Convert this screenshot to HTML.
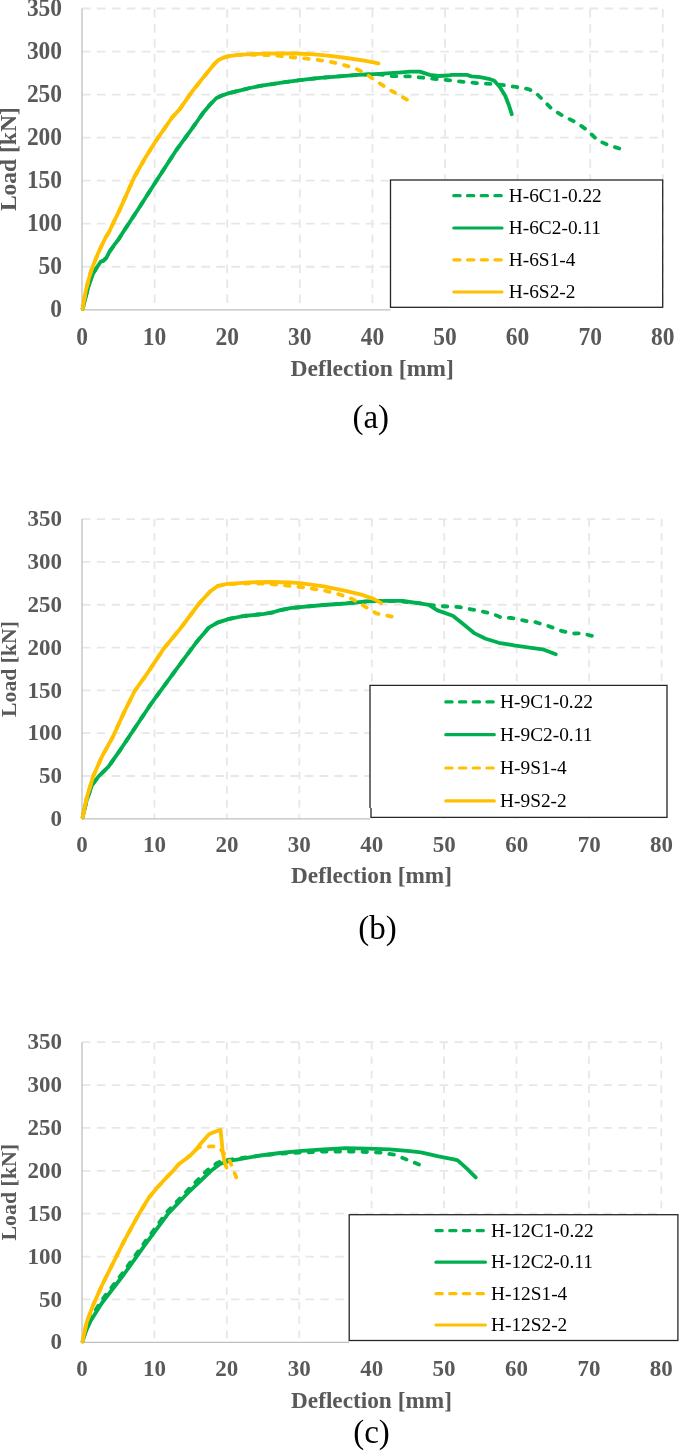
<!DOCTYPE html><html><head><meta charset="utf-8"><style>html,body{margin:0;padding:0;background:#fff;width:685px;height:1451px;overflow:hidden}svg{display:block;filter:blur(0.35px)}</style></head><body>
<svg width="685" height="1451" viewBox="0 0 685 1451">
<rect width="685" height="1451" fill="#fff"/>
<line x1="82.0" y1="266.76" x2="662.8" y2="266.76" stroke="#e7e7e7" stroke-width="1.8" stroke-dasharray="8.6,6.33"/><line x1="82.0" y1="223.71" x2="662.8" y2="223.71" stroke="#e7e7e7" stroke-width="1.8" stroke-dasharray="8.6,6.33"/><line x1="82.0" y1="180.67" x2="662.8" y2="180.67" stroke="#e7e7e7" stroke-width="1.8" stroke-dasharray="8.6,6.33"/><line x1="82.0" y1="137.63" x2="662.8" y2="137.63" stroke="#e7e7e7" stroke-width="1.8" stroke-dasharray="8.6,6.33"/><line x1="82.0" y1="94.59" x2="662.8" y2="94.59" stroke="#e7e7e7" stroke-width="1.8" stroke-dasharray="8.6,6.33"/><line x1="82.0" y1="51.54" x2="662.8" y2="51.54" stroke="#e7e7e7" stroke-width="1.8" stroke-dasharray="8.6,6.33"/><line x1="82.0" y1="8.50" x2="662.8" y2="8.50" stroke="#e7e7e7" stroke-width="1.8" stroke-dasharray="8.6,6.33"/><line x1="154.60" y1="8.5" x2="154.60" y2="309.8" stroke="#e7e7e7" stroke-width="1.8" stroke-dasharray="8.4,6.63" stroke-dashoffset="-0.5"/><line x1="227.20" y1="8.5" x2="227.20" y2="309.8" stroke="#e7e7e7" stroke-width="1.8" stroke-dasharray="8.4,6.63" stroke-dashoffset="-0.5"/><line x1="299.80" y1="8.5" x2="299.80" y2="309.8" stroke="#e7e7e7" stroke-width="1.8" stroke-dasharray="8.4,6.63" stroke-dashoffset="-0.5"/><line x1="372.40" y1="8.5" x2="372.40" y2="309.8" stroke="#e7e7e7" stroke-width="1.8" stroke-dasharray="8.4,6.63" stroke-dashoffset="-0.5"/><line x1="445.00" y1="8.5" x2="445.00" y2="309.8" stroke="#e7e7e7" stroke-width="1.8" stroke-dasharray="8.4,6.63" stroke-dashoffset="-0.5"/><line x1="517.60" y1="8.5" x2="517.60" y2="309.8" stroke="#e7e7e7" stroke-width="1.8" stroke-dasharray="8.4,6.63" stroke-dashoffset="-0.5"/><line x1="590.20" y1="8.5" x2="590.20" y2="309.8" stroke="#e7e7e7" stroke-width="1.8" stroke-dasharray="8.4,6.63" stroke-dashoffset="-0.5"/><line x1="662.80" y1="8.5" x2="662.80" y2="309.8" stroke="#e7e7e7" stroke-width="1.8" stroke-dasharray="8.4,6.63" stroke-dashoffset="-0.5"/>
<line x1="82.0" y1="8.5" x2="82.0" y2="309.8" stroke="#bfbfbf" stroke-width="1.3"/>
<line x1="82.0" y1="309.8" x2="390.5" y2="309.8" stroke="#bfbfbf" stroke-width="1.3"/>
<g font-family="Liberation Serif, serif" font-weight="bold" font-size="23.5" fill="#595959"><text transform="translate(62.1,317.28) scale(1.0,1.08)" text-anchor="end">0</text><text transform="translate(62.1,274.24) scale(1.0,1.08)" text-anchor="end">50</text><text transform="translate(62.1,231.19) scale(1.0,1.08)" text-anchor="end">100</text><text transform="translate(62.1,188.15) scale(1.0,1.08)" text-anchor="end">150</text><text transform="translate(62.1,145.11) scale(1.0,1.08)" text-anchor="end">200</text><text transform="translate(62.1,102.06) scale(1.0,1.08)" text-anchor="end">250</text><text transform="translate(62.1,59.02) scale(1.0,1.08)" text-anchor="end">300</text><text transform="translate(62.1,15.98) scale(1.0,1.08)" text-anchor="end">350</text><text transform="translate(82.00,344.6) scale(1.0,1.08)" text-anchor="middle">0</text><text transform="translate(154.60,344.6) scale(1.0,1.08)" text-anchor="middle">10</text><text transform="translate(227.20,344.6) scale(1.0,1.08)" text-anchor="middle">20</text><text transform="translate(299.80,344.6) scale(1.0,1.08)" text-anchor="middle">30</text><text transform="translate(372.40,344.6) scale(1.0,1.08)" text-anchor="middle">40</text><text transform="translate(445.00,344.6) scale(1.0,1.08)" text-anchor="middle">50</text><text transform="translate(517.60,344.6) scale(1.0,1.08)" text-anchor="middle">60</text><text transform="translate(590.20,344.6) scale(1.0,1.08)" text-anchor="middle">70</text><text transform="translate(662.80,344.6) scale(1.0,1.08)" text-anchor="middle">80</text></g>
<text transform="translate(372.20,375.5) scale(1.006,1)" font-family="Liberation Serif, serif" font-weight="bold" font-size="23.5" fill="#595959" text-anchor="middle">Deflection [mm]</text>
<text transform="translate(15.6,159.2) rotate(-90)" font-family="Liberation Serif, serif" font-weight="bold" font-size="23.5" fill="#595959" text-anchor="middle">Load [kN]</text>
<polyline points="82.7,308.8 86.0,295.7 89.7,282.6 93.3,273.1 97.0,267.2 100.6,261.8 103.5,260.7 106.5,257.7 109.4,251.9 114.5,244.6 118.9,238.8 124.0,230.7 138.0,209.5 155.0,183.0 175.9,150.7 191.1,129.8 198.1,120.0 203.4,112.4 210.4,104.2 216.2,98.2 222.0,95.5 229.0,93.1 238.4,90.8 250.0,88.0 261.7,85.6 273.4,83.9 285.0,82.1 296.7,80.6 308.4,79.2 320.1,77.8 330.0,77.1 357.6,74.9 379.5,74.2 390.4,76.0 410.0,76.4 431.9,78.6 453.8,80.8 475.7,83.0 497.6,84.3 512.9,86.5 528.2,89.1 535.0,92.0 543.8,100.8 552.5,109.6 563.5,116.1 576.6,122.7 587.6,130.4 597.4,140.2 607.3,144.6 619.3,148.5" fill="none" stroke="#00b050" stroke-width="3.8" stroke-dasharray="4.6,8.9" stroke-dashoffset="1.85" stroke-linecap="round" stroke-linejoin="round"/>
<polyline points="82.7,308.8 86.0,295.7 89.7,282.6 93.3,273.1 97.0,267.2 100.6,261.8 103.5,260.7 106.5,257.7 109.4,251.9 114.5,244.6 118.9,238.8 124.0,230.7 138.0,209.5 155.0,183.0 175.9,150.7 191.1,129.8 198.1,120.0 203.4,112.4 210.4,104.2 216.2,98.2 222.0,95.5 229.0,93.1 238.4,90.8 250.0,88.0 261.7,85.6 273.4,83.9 285.0,82.1 296.7,80.6 308.4,79.2 320.1,77.8 330.0,77.1 357.6,74.9 379.5,73.8 401.4,72.3 410.0,71.6 419.9,71.6 429.7,74.9 438.5,76.0 448.3,75.5 451.6,74.9 466.9,74.9 471.3,76.4 480.1,77.1 488.8,78.8 494.3,80.8 499.8,86.9 505.2,95.7 509.0,105.5 511.8,114.3" fill="none" stroke="#00b050" stroke-width="3.8" stroke-linecap="round" stroke-linejoin="round"/>
<polyline points="82.7,308.8 83.8,301.5 86.0,289.9 88.6,279.6 91.1,270.9 94.8,261.4 98.4,252.6 102.1,244.6 105.7,237.3 109.4,231.5 113.0,223.5 119.0,211.4 126.6,194.4 134.2,177.3 145.5,157.4 156.9,139.3 172.1,117.5 180.0,108.9 191.7,92.0 203.4,77.4 213.9,64.5 218.5,59.9 223.2,57.8 229.0,56.1 238.4,54.9 250.0,54.7 273.4,55.3 290.9,57.2 304.9,58.4 317.7,59.9 330.0,61.7 340.0,64.0 353.2,67.7 364.2,72.7 375.1,80.4 390.4,90.2 406.9,99.6" fill="none" stroke="#ffc000" stroke-width="3.8" stroke-dasharray="4.6,8.9" stroke-dashoffset="4.45" stroke-linecap="round" stroke-linejoin="round"/>
<polyline points="82.7,308.8 83.8,301.5 86.0,289.9 88.6,279.6 91.1,270.9 94.8,261.4 98.4,252.6 102.1,244.6 105.7,237.3 109.4,231.5 113.0,223.5 119.0,211.4 126.6,194.4 134.2,177.3 145.5,157.4 156.9,139.3 172.1,117.5 180.0,108.9 191.7,92.0 203.4,77.4 213.9,64.5 218.5,59.9 223.2,57.8 229.0,56.1 238.4,54.9 250.0,54.1 273.4,53.3 296.7,53.5 314.2,54.4 330.0,55.8 346.6,58.0 364.2,60.7 378.4,63.3" fill="none" stroke="#ffc000" stroke-width="3.8" stroke-linecap="round" stroke-linejoin="round"/>
<rect x="390.5" y="180.0" width="272.2" height="127.3" fill="#fff"/>
<rect x="390.5" y="180.0" width="272.2" height="127.3" fill="none" stroke="#262626" stroke-width="1.3"/>
<line x1="453.8" y1="195.7" x2="502.0" y2="195.7" stroke="#00b050" stroke-width="3.2" stroke-linecap="round" stroke-dasharray="6.3,7.4"/>
<text transform="translate(508.8,201.84) scale(1.04,1)" font-family="Liberation Serif, serif" font-size="18.6" fill="#000">H-6C1-0.22</text>
<line x1="453.8" y1="228.0" x2="502.0" y2="228.0" stroke="#00b050" stroke-width="3.2" stroke-linecap="round"/>
<text transform="translate(508.8,234.14) scale(1.04,1)" font-family="Liberation Serif, serif" font-size="18.6" fill="#000">H-6C2-0.11</text>
<line x1="453.8" y1="259.8" x2="502.0" y2="259.8" stroke="#ffc000" stroke-width="3.2" stroke-linecap="round" stroke-dasharray="6.3,7.4"/>
<text transform="translate(508.8,265.94) scale(1.04,1)" font-family="Liberation Serif, serif" font-size="18.6" fill="#000">H-6S1-4</text>
<line x1="453.8" y1="292.0" x2="502.0" y2="292.0" stroke="#ffc000" stroke-width="3.2" stroke-linecap="round"/>
<text transform="translate(508.8,298.14) scale(1.04,1)" font-family="Liberation Serif, serif" font-size="18.6" fill="#000">H-6S2-2</text>
<text x="370.8" y="427.7" font-family="Liberation Serif, serif" font-size="33" fill="#000" text-anchor="middle">(a)</text>
<line x1="82.0" y1="775.99" x2="661.6" y2="775.99" stroke="#e7e7e7" stroke-width="1.8" stroke-dasharray="8.4,6.45"/><line x1="82.0" y1="733.17" x2="661.6" y2="733.17" stroke="#e7e7e7" stroke-width="1.8" stroke-dasharray="8.4,6.45"/><line x1="82.0" y1="690.36" x2="661.6" y2="690.36" stroke="#e7e7e7" stroke-width="1.8" stroke-dasharray="8.4,6.45"/><line x1="82.0" y1="647.54" x2="661.6" y2="647.54" stroke="#e7e7e7" stroke-width="1.8" stroke-dasharray="8.4,6.45"/><line x1="82.0" y1="604.73" x2="661.6" y2="604.73" stroke="#e7e7e7" stroke-width="1.8" stroke-dasharray="8.4,6.45"/><line x1="82.0" y1="561.91" x2="661.6" y2="561.91" stroke="#e7e7e7" stroke-width="1.8" stroke-dasharray="8.4,6.45"/><line x1="82.0" y1="519.10" x2="661.6" y2="519.10" stroke="#e7e7e7" stroke-width="1.8" stroke-dasharray="8.4,6.45"/><line x1="154.45" y1="519.1" x2="154.45" y2="818.8" stroke="#e7e7e7" stroke-width="1.8" stroke-dasharray="7.8,6.24" stroke-dashoffset="0.1"/><line x1="226.90" y1="519.1" x2="226.90" y2="818.8" stroke="#e7e7e7" stroke-width="1.8" stroke-dasharray="7.8,6.24" stroke-dashoffset="0.1"/><line x1="299.35" y1="519.1" x2="299.35" y2="818.8" stroke="#e7e7e7" stroke-width="1.8" stroke-dasharray="7.8,6.24" stroke-dashoffset="0.1"/><line x1="371.80" y1="519.1" x2="371.80" y2="818.8" stroke="#e7e7e7" stroke-width="1.8" stroke-dasharray="7.8,6.24" stroke-dashoffset="0.1"/><line x1="444.25" y1="519.1" x2="444.25" y2="818.8" stroke="#e7e7e7" stroke-width="1.8" stroke-dasharray="7.8,6.24" stroke-dashoffset="0.1"/><line x1="516.70" y1="519.1" x2="516.70" y2="818.8" stroke="#e7e7e7" stroke-width="1.8" stroke-dasharray="7.8,6.24" stroke-dashoffset="0.1"/><line x1="589.15" y1="519.1" x2="589.15" y2="818.8" stroke="#e7e7e7" stroke-width="1.8" stroke-dasharray="7.8,6.24" stroke-dashoffset="0.1"/><line x1="661.60" y1="519.1" x2="661.60" y2="818.8" stroke="#e7e7e7" stroke-width="1.8" stroke-dasharray="7.8,6.24" stroke-dashoffset="0.1"/>
<line x1="82.0" y1="519.1" x2="82.0" y2="818.8" stroke="#bfbfbf" stroke-width="1.3"/>
<line x1="82.0" y1="818.8" x2="370.0" y2="818.8" stroke="#bfbfbf" stroke-width="1.3"/>
<g font-family="Liberation Serif, serif" font-weight="bold" font-size="23.0" fill="#595959"><text transform="translate(62.1,826.07) scale(1.0,1.0)" text-anchor="end">0</text><text transform="translate(62.1,783.26) scale(1.0,1.0)" text-anchor="end">50</text><text transform="translate(62.1,740.45) scale(1.0,1.0)" text-anchor="end">100</text><text transform="translate(62.1,697.63) scale(1.0,1.0)" text-anchor="end">150</text><text transform="translate(62.1,654.82) scale(1.0,1.0)" text-anchor="end">200</text><text transform="translate(62.1,612.00) scale(1.0,1.0)" text-anchor="end">250</text><text transform="translate(62.1,569.19) scale(1.0,1.0)" text-anchor="end">300</text><text transform="translate(62.1,526.37) scale(1.0,1.0)" text-anchor="end">350</text><text transform="translate(82.00,851.8) scale(1.0,1.0)" text-anchor="middle">0</text><text transform="translate(154.45,851.8) scale(1.0,1.0)" text-anchor="middle">10</text><text transform="translate(226.90,851.8) scale(1.0,1.0)" text-anchor="middle">20</text><text transform="translate(299.35,851.8) scale(1.0,1.0)" text-anchor="middle">30</text><text transform="translate(371.80,851.8) scale(1.0,1.0)" text-anchor="middle">40</text><text transform="translate(444.25,851.8) scale(1.0,1.0)" text-anchor="middle">50</text><text transform="translate(516.70,851.8) scale(1.0,1.0)" text-anchor="middle">60</text><text transform="translate(589.15,851.8) scale(1.0,1.0)" text-anchor="middle">70</text><text transform="translate(661.60,851.8) scale(1.0,1.0)" text-anchor="middle">80</text></g>
<text transform="translate(371.50,882.6) scale(1.013,1)" font-family="Liberation Serif, serif" font-weight="bold" font-size="23.0" fill="#595959" text-anchor="middle">Deflection [mm]</text>
<text transform="translate(15.6,669.0) rotate(-90)" font-family="Liberation Serif, serif" font-weight="bold" font-size="21.7" fill="#595959" text-anchor="middle">Load [kN]</text>
<polyline points="82.6,817.5 86.6,800.5 92.0,785.2 98.6,776.4 108.5,766.6 119.4,751.2 134.7,728.2 150.1,705.2 167.6,681.2 182.9,660.4 196.0,642.8 200.0,637.9 208.8,627.7 217.5,622.6 229.2,618.9 243.8,616.0 258.4,614.5 264.2,613.8 273.0,612.3 280.3,610.1 290.5,608.2 300.0,607.2 323.8,605.0 345.7,603.5 367.6,601.3 385.1,600.9 402.6,601.5 420.0,603.4 437.5,606.0 459.4,607.1 476.9,610.4 492.3,613.6 501.0,617.4 512.0,618.0 529.5,621.7 535.0,622.0 548.1,626.0 561.3,630.8 572.2,633.6 581.0,633.2 591.9,635.8" fill="none" stroke="#00b050" stroke-width="3.8" stroke-dasharray="4.6,8.9" stroke-dashoffset="4.85" stroke-linecap="round" stroke-linejoin="round"/>
<polyline points="82.6,817.5 86.6,800.5 92.0,785.2 98.6,776.4 108.5,766.6 119.4,751.2 134.7,728.2 150.1,705.2 167.6,681.2 182.9,660.4 196.0,642.8 200.0,637.9 208.8,627.7 217.5,622.6 229.2,618.9 243.8,616.0 258.4,614.5 264.2,613.8 273.0,612.3 280.3,610.1 290.5,608.2 300.0,607.2 323.8,605.0 345.7,603.5 367.6,601.3 385.1,600.9 402.6,600.9 420.0,603.4 428.8,604.9 437.5,610.4 452.8,615.8 463.8,624.6 474.7,633.4 485.7,638.8 498.8,642.8 514.2,645.4 529.5,647.6 542.6,649.3 555.8,654.2" fill="none" stroke="#00b050" stroke-width="3.8" stroke-linecap="round" stroke-linejoin="round"/>
<polyline points="82.6,817.5 86.6,798.3 93.1,776.4 101.9,756.7 112.8,737.0 123.8,712.9 134.7,691.0 145.7,675.7 163.2,649.4 178.5,630.8 183.8,624.0 199.1,603.5 210.1,591.5 217.7,586.0 227.6,584.3 249.5,583.3 271.4,584.0 280.0,584.9 301.9,587.1 323.8,590.4 339.1,594.3 352.3,599.1 365.4,606.8 376.3,613.4 391.7,616.6" fill="none" stroke="#ffc000" stroke-width="3.8" stroke-dasharray="4.6,8.9" stroke-dashoffset="11.53" stroke-linecap="round" stroke-linejoin="round"/>
<polyline points="82.6,817.5 86.6,798.3 93.1,776.4 101.9,756.7 112.8,737.0 123.8,712.9 134.7,691.0 145.7,675.7 163.2,649.4 178.5,630.8 183.8,624.0 199.1,603.5 210.1,591.5 217.7,586.0 227.6,583.8 249.5,582.3 271.4,582.0 290.0,582.3 301.9,583.4 323.8,586.4 345.7,590.8 363.2,595.2 374.2,599.1 381.2,603.1" fill="none" stroke="#ffc000" stroke-width="3.8" stroke-linecap="round" stroke-linejoin="round"/>
<rect x="370.0" y="685.3" width="297.0" height="132.0" fill="#fff"/>
<path d="M370.0,807.9 V685.3 H667.0 V817.3 H371.0 V807.9" fill="none" stroke="#262626" stroke-width="1.3"/>
<line x1="445.8" y1="701.9" x2="494.3" y2="701.9" stroke="#00b050" stroke-width="3.2" stroke-linecap="round" stroke-dasharray="6.3,7.4"/>
<text transform="translate(500.1,708.04) scale(1.04,1)" font-family="Liberation Serif, serif" font-size="18.6" fill="#000">H-9C1-0.22</text>
<line x1="445.8" y1="734.7" x2="494.3" y2="734.7" stroke="#00b050" stroke-width="3.2" stroke-linecap="round"/>
<text transform="translate(500.1,740.84) scale(1.04,1)" font-family="Liberation Serif, serif" font-size="18.6" fill="#000">H-9C2-0.11</text>
<line x1="445.8" y1="768.0" x2="494.3" y2="768.0" stroke="#ffc000" stroke-width="3.2" stroke-linecap="round" stroke-dasharray="6.3,7.4"/>
<text transform="translate(500.1,774.14) scale(1.04,1)" font-family="Liberation Serif, serif" font-size="18.6" fill="#000">H-9S1-4</text>
<line x1="445.8" y1="800.9" x2="494.3" y2="800.9" stroke="#ffc000" stroke-width="3.2" stroke-linecap="round"/>
<text transform="translate(500.1,807.04) scale(1.04,1)" font-family="Liberation Serif, serif" font-size="18.6" fill="#000">H-9S2-2</text>
<text x="377.5" y="938.5" font-family="Liberation Serif, serif" font-size="33" fill="#000" text-anchor="middle">(b)</text>
<line x1="82.0" y1="1299.43" x2="661.3" y2="1299.43" stroke="#e7e7e7" stroke-width="1.8" stroke-dasharray="8.5,6.40"/><line x1="82.0" y1="1256.56" x2="661.3" y2="1256.56" stroke="#e7e7e7" stroke-width="1.8" stroke-dasharray="8.5,6.40"/><line x1="82.0" y1="1213.69" x2="661.3" y2="1213.69" stroke="#e7e7e7" stroke-width="1.8" stroke-dasharray="8.5,6.40"/><line x1="82.0" y1="1170.81" x2="661.3" y2="1170.81" stroke="#e7e7e7" stroke-width="1.8" stroke-dasharray="8.5,6.40"/><line x1="82.0" y1="1127.94" x2="661.3" y2="1127.94" stroke="#e7e7e7" stroke-width="1.8" stroke-dasharray="8.5,6.40"/><line x1="82.0" y1="1085.07" x2="661.3" y2="1085.07" stroke="#e7e7e7" stroke-width="1.8" stroke-dasharray="8.5,6.40"/><line x1="82.0" y1="1042.20" x2="661.3" y2="1042.20" stroke="#e7e7e7" stroke-width="1.8" stroke-dasharray="8.5,6.40"/><line x1="154.41" y1="1042.2" x2="154.41" y2="1342.3" stroke="#e7e7e7" stroke-width="1.8" stroke-dasharray="7.6,6.83" stroke-dashoffset="0.2"/><line x1="226.82" y1="1042.2" x2="226.82" y2="1342.3" stroke="#e7e7e7" stroke-width="1.8" stroke-dasharray="7.6,6.83" stroke-dashoffset="0.2"/><line x1="299.24" y1="1042.2" x2="299.24" y2="1342.3" stroke="#e7e7e7" stroke-width="1.8" stroke-dasharray="7.6,6.83" stroke-dashoffset="0.2"/><line x1="371.65" y1="1042.2" x2="371.65" y2="1342.3" stroke="#e7e7e7" stroke-width="1.8" stroke-dasharray="7.6,6.83" stroke-dashoffset="0.2"/><line x1="444.06" y1="1042.2" x2="444.06" y2="1342.3" stroke="#e7e7e7" stroke-width="1.8" stroke-dasharray="7.6,6.83" stroke-dashoffset="0.2"/><line x1="516.47" y1="1042.2" x2="516.47" y2="1342.3" stroke="#e7e7e7" stroke-width="1.8" stroke-dasharray="7.6,6.83" stroke-dashoffset="0.2"/><line x1="588.89" y1="1042.2" x2="588.89" y2="1342.3" stroke="#e7e7e7" stroke-width="1.8" stroke-dasharray="7.6,6.83" stroke-dashoffset="0.2"/><line x1="661.30" y1="1042.2" x2="661.30" y2="1342.3" stroke="#e7e7e7" stroke-width="1.8" stroke-dasharray="7.6,6.83" stroke-dashoffset="0.2"/>
<line x1="82.0" y1="1042.2" x2="82.0" y2="1342.3" stroke="#bfbfbf" stroke-width="1.3"/>
<line x1="82.0" y1="1342.3" x2="349.2" y2="1342.3" stroke="#bfbfbf" stroke-width="1.3"/>
<g font-family="Liberation Serif, serif" font-weight="bold" font-size="23.0" fill="#595959"><text transform="translate(62.1,1349.37) scale(1.0,1.0)" text-anchor="end">0</text><text transform="translate(62.1,1306.50) scale(1.0,1.0)" text-anchor="end">50</text><text transform="translate(62.1,1263.63) scale(1.0,1.0)" text-anchor="end">100</text><text transform="translate(62.1,1220.76) scale(1.0,1.0)" text-anchor="end">150</text><text transform="translate(62.1,1177.89) scale(1.0,1.0)" text-anchor="end">200</text><text transform="translate(62.1,1135.02) scale(1.0,1.0)" text-anchor="end">250</text><text transform="translate(62.1,1092.15) scale(1.0,1.0)" text-anchor="end">300</text><text transform="translate(62.1,1049.27) scale(1.0,1.0)" text-anchor="end">350</text><text transform="translate(82.00,1375.9) scale(1.0,1.0)" text-anchor="middle">0</text><text transform="translate(154.41,1375.9) scale(1.0,1.0)" text-anchor="middle">10</text><text transform="translate(226.82,1375.9) scale(1.0,1.0)" text-anchor="middle">20</text><text transform="translate(299.24,1375.9) scale(1.0,1.0)" text-anchor="middle">30</text><text transform="translate(371.65,1375.9) scale(1.0,1.0)" text-anchor="middle">40</text><text transform="translate(444.06,1375.9) scale(1.0,1.0)" text-anchor="middle">50</text><text transform="translate(516.47,1375.9) scale(1.0,1.0)" text-anchor="middle">60</text><text transform="translate(588.89,1375.9) scale(1.0,1.0)" text-anchor="middle">70</text><text transform="translate(661.30,1375.9) scale(1.0,1.0)" text-anchor="middle">80</text></g>
<text transform="translate(371.45,1407.6) scale(1.013,1)" font-family="Liberation Serif, serif" font-weight="bold" font-size="23.0" fill="#595959" text-anchor="middle">Deflection [mm]</text>
<text transform="translate(15.6,1192.2) rotate(-90)" font-family="Liberation Serif, serif" font-weight="bold" font-size="21.9" fill="#595959" text-anchor="middle">Load [kN]</text>
<polyline points="82.6,1341.5 86.0,1330.0 90.9,1317.5 101.9,1300.0 123.8,1271.5 145.7,1240.9 167.6,1211.3 189.5,1188.3 207.0,1170.5 216.6,1163.3 223.0,1160.5 238.5,1158.5 260.4,1155.5 280.0,1153.6 323.8,1151.5 356.6,1151.5 380.7,1152.6 393.9,1154.7 407.0,1159.6 419.0,1164.6" fill="none" stroke="#00b050" stroke-width="3.8" stroke-dasharray="4.6,8.9" stroke-dashoffset="5.86" stroke-linecap="round" stroke-linejoin="round"/>
<polyline points="82.6,1341.5 86.0,1331.0 90.9,1320.5 101.9,1303.0 123.8,1274.5 145.7,1243.9 167.6,1214.3 189.5,1191.3 211.4,1170.5 220.1,1163.9 230.0,1160.7 238.5,1159.3 260.4,1155.5 280.0,1153.0 301.9,1150.8 323.8,1149.3 345.7,1148.2 367.6,1148.6 389.5,1149.3 410.0,1151.2 420.9,1152.3 438.5,1156.4 453.8,1159.3 457.7,1160.4 466.9,1168.7 475.7,1177.4" fill="none" stroke="#00b050" stroke-width="3.8" stroke-linecap="round" stroke-linejoin="round"/>
<polyline points="82.6,1341.5 84.5,1332.0 86.6,1322.7 93.1,1305.2 101.9,1285.5 112.8,1263.6 123.8,1241.7 136.9,1217.6 141.8,1209.2 148.8,1197.8 157.5,1187.3 166.3,1177.7 173.3,1170.6 179.4,1163.6 185.5,1159.3 190.8,1154.9 196.0,1149.6 199.0,1147.2 204.0,1146.8 211.4,1146.4 216.0,1146.5 220.1,1148.6 224.5,1154.1 229.8,1161.0 236.3,1177.4" fill="none" stroke="#ffc000" stroke-width="3.8" stroke-dasharray="4.6,8.9" stroke-dashoffset="2.58" stroke-linecap="round" stroke-linejoin="round"/>
<polyline points="82.6,1341.5 84.5,1332.0 86.6,1322.7 93.1,1305.2 101.9,1285.5 112.8,1263.6 123.8,1241.7 136.9,1217.6 141.8,1209.2 148.8,1197.8 157.5,1187.3 166.3,1177.7 173.3,1170.6 179.4,1163.6 185.5,1159.3 190.8,1154.9 196.0,1149.6 200.0,1144.4 209.0,1134.3 215.5,1131.5 220.6,1129.9 221.5,1139.1 222.8,1152.3 224.3,1161.0 226.5,1167.6" fill="none" stroke="#ffc000" stroke-width="3.8" stroke-linecap="round" stroke-linejoin="round"/>
<rect x="349.2" y="1214.7" width="328.7" height="125.8" fill="#fff"/>
<rect x="349.2" y="1214.7" width="328.7" height="125.8" fill="none" stroke="#262626" stroke-width="1.3"/>
<line x1="436.0" y1="1230.6" x2="485.4" y2="1230.6" stroke="#00b050" stroke-width="3.2" stroke-linecap="round" stroke-dasharray="6.3,7.4"/>
<text transform="translate(491.0,1236.74) scale(1.04,1)" font-family="Liberation Serif, serif" font-size="18.6" fill="#000">H-12C1-0.22</text>
<line x1="436.0" y1="1262.2" x2="485.4" y2="1262.2" stroke="#00b050" stroke-width="3.2" stroke-linecap="round"/>
<text transform="translate(491.0,1268.34) scale(1.04,1)" font-family="Liberation Serif, serif" font-size="18.6" fill="#000">H-12C2-0.11</text>
<line x1="436.0" y1="1293.7" x2="485.4" y2="1293.7" stroke="#ffc000" stroke-width="3.2" stroke-linecap="round" stroke-dasharray="6.3,7.4"/>
<text transform="translate(491.0,1299.84) scale(1.04,1)" font-family="Liberation Serif, serif" font-size="18.6" fill="#000">H-12S1-4</text>
<line x1="436.0" y1="1325.0" x2="485.4" y2="1325.0" stroke="#ffc000" stroke-width="3.2" stroke-linecap="round"/>
<text transform="translate(491.0,1331.14) scale(1.04,1)" font-family="Liberation Serif, serif" font-size="18.6" fill="#000">H-12S2-2</text>
<text x="371.5" y="1442.5" font-family="Liberation Serif, serif" font-size="33" fill="#000" text-anchor="middle">(c)</text>
</svg></body></html>
